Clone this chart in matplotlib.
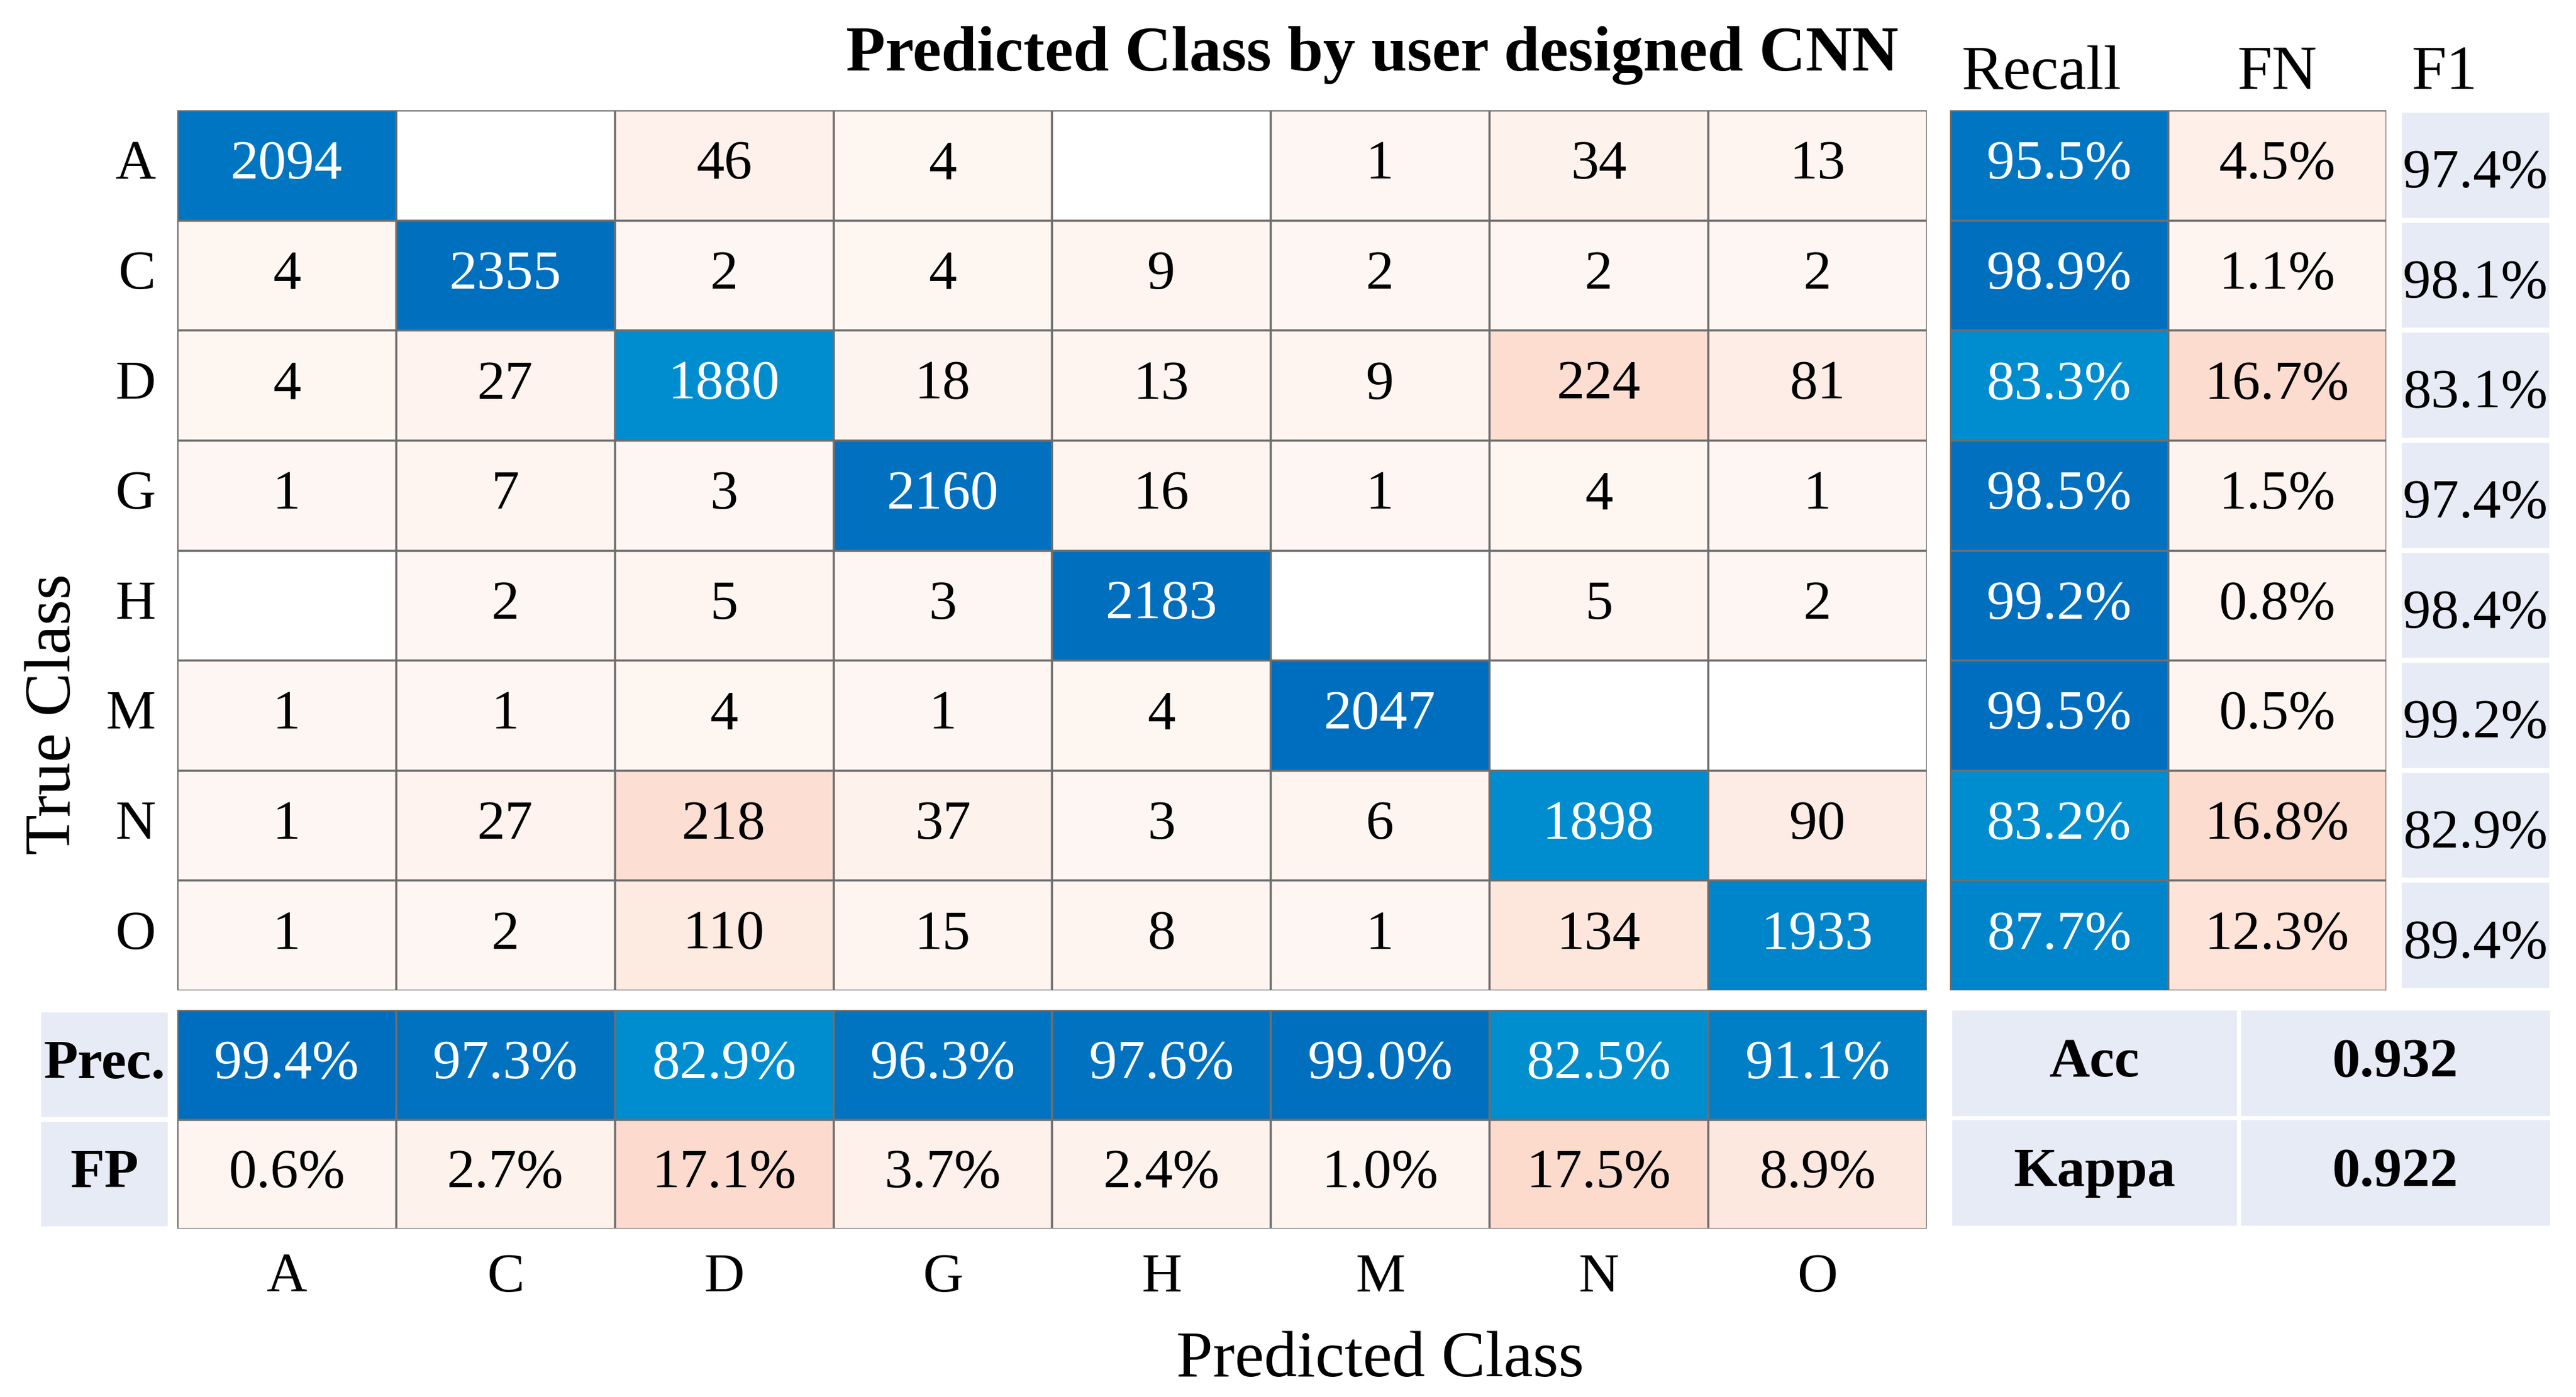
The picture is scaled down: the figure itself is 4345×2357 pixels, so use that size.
import matplotlib
matplotlib.use('Agg')
import matplotlib.pyplot as plt
from matplotlib.patches import Rectangle
import numpy as np

plt.rcParams['font.family'] = ['Liberation Serif', 'DejaVu Serif']

# data
classes = ['A', 'C', 'D', 'G', 'H', 'M', 'N', 'O']
conf = np.array([
    [2094, 0, 46, 4, 0, 1, 34, 13],
    [4, 2355, 2, 4, 9, 2, 2, 2],
    [4, 27, 1880, 18, 13, 9, 224, 81],
    [1, 7, 3, 2160, 16, 1, 4, 1],
    [0, 2, 5, 3, 2183, 0, 5, 2],
    [1, 1, 4, 1, 4, 2047, 0, 0],
    [1, 27, 218, 37, 3, 6, 1898, 90],
    [1, 2, 110, 15, 8, 1, 134, 1933],
])
recall = [95.5, 98.9, 83.3, 98.5, 99.2, 99.5, 83.2, 87.7]
fn_rate = [4.5, 1.1, 16.7, 1.5, 0.8, 0.5, 16.8, 12.3]
f1 = [97.4, 98.1, 83.1, 97.4, 98.4, 99.2, 82.9, 89.4]
precision = [99.4, 97.3, 82.9, 96.3, 97.6, 99.0, 82.5, 91.1]
fp_rate = [0.6, 2.7, 17.1, 3.7, 2.4, 1.0, 17.5, 8.9]
acc = 0.932
kappa = 0.922

W, H = 4345, 2357
FS = 68
EDGE = '#6e6e6e'
PANEL = '#e7ebf5'


def blue(p):
    # darker blue for higher percentage
    t = np.clip((p - 80) / 20.0, 0, 1)
    c0 = np.array([0x00, 0x93, 0xd2]) / 255
    c1 = np.array([0x00, 0x6d, 0xbd]) / 255
    return tuple(c0 + (c1 - c0) * t)


def pink(p):
    t = np.clip(p / 18.0, 0, 1)
    c0 = np.array([0xfe, 0xf6, 0xf2]) / 255
    c1 = np.array([0xfc, 0xda, 0xcc]) / 255
    return tuple(c0 + (c1 - c0) * t)


def add_ax(x0, y0, x1, y1):
    ax = fig.add_axes([x0 / W, 1 - y1 / H, (x1 - x0) / W, (y1 - y0) / H])
    ax.axis('off')
    return ax


def cell(ax, c, r, fc, txt, tc='black', edge=EDGE, lw=2.5, weight='normal', dy=0.0):
    ax.add_patch(Rectangle((c, r), 1, 1, facecolor=fc, edgecolor=edge, linewidth=lw))
    if txt:
        ax.text(c + 0.5, r + 0.5 + dy, txt, ha='center', va='center', color=tc,
                fontsize=FS, fontweight=weight)


fig = plt.figure(figsize=(W / 100, H / 100), dpi=100)

# main confusion matrix
ax = add_ax(299, 186, 3250, 1671)
n = len(classes)
ax.set_xlim(0, n)
ax.set_ylim(n, 0)
row_tot = conf.sum(axis=1)
for i in range(n):
    for j in range(n):
        v = conf[i, j]
        if i == j:
            cell(ax, j, i, blue(recall[i]), str(v), 'white')
        elif v == 0:
            cell(ax, j, i, 'white', '')
        else:
            cell(ax, j, i, pink(v / row_tot[i] * 100 * 1.6), str(v))
    ax.text(-0.1, i + 0.5, classes[i], ha='right', va='center', fontsize=FS)
ax.text(7.87, -0.5, 'Predicted Class by user designed CNN', ha='right', va='center',
        fontsize=78, fontweight='bold')

fig.text(91 / W, 1 - 1205 / H, 'True Class', rotation=90, ha='center', va='center', fontsize=80)
fig.text(2328 / W, 1 - 2295 / H, 'Predicted Class', ha='center', va='center', fontsize=80)

# recall / FN block
ax2 = add_ax(3289, 186, 4025, 1671)
ax2.set_xlim(0, 2)
ax2.set_ylim(n, 0)
for i in range(n):
    cell(ax2, 0, i, blue(recall[i]), f'{recall[i]:.1f}%', 'white')
    cell(ax2, 1, i, pink(fn_rate[i]), f'{fn_rate[i]:.1f}%')
ax2.text(0.42, -0.33, 'Recall', ha='center', va='center', fontsize=76)
ax2.text(1.5, -0.33, 'FN', ha='center', va='center', fontsize=76)

# F1 column
ax3 = add_ax(4047, 186, 4304, 1671)
ax3.set_xlim(0, 1)
ax3.set_ylim(n, 0)
for i in range(n):
    cell(ax3, 0, i, PANEL, f'{f1[i]:.1f}%', edge='white', lw=6, dy=0.08)
ax3.text(0.3, -0.33, 'F1', ha='center', va='center', fontsize=76)

# precision / FP rows
ax4 = add_ax(299, 1704, 3250, 2073)
ax4.set_xlim(0, n)
ax4.set_ylim(2, 0)
for j in range(n):
    cell(ax4, j, 0, blue(precision[j]), f'{precision[j]:.1f}%', 'white')
    cell(ax4, j, 1, pink(fp_rate[j]), f'{fp_rate[j]:.1f}%')
    ax4.text(j + 0.5, 2.45, classes[j], ha='center', va='center', fontsize=FS)

# row labels for precision / FP
ax5 = add_ax(65, 1704, 287, 2073)
ax5.set_xlim(0, 1)
ax5.set_ylim(2, 0)
cell(ax5, 0, 0, PANEL, 'Prec.', edge='white', lw=6, weight='bold')
cell(ax5, 0, 1, PANEL, 'FP', edge='white', lw=6, weight='bold')

# overall accuracy / kappa
ax6 = add_ax(3289, 1701, 4304, 2071)
ax6.set_xlim(0, 2)
ax6.set_ylim(2, 0)
ax6.add_patch(Rectangle((0, 0), 2, 2, facecolor=PANEL, edgecolor='none'))
for r, (name, val) in enumerate([('Acc', acc), ('Kappa', kappa)]):
    ax6.add_patch(Rectangle((0, r), 0.96, 1, facecolor=PANEL, edgecolor='white', linewidth=5))
    ax6.add_patch(Rectangle((0.96, r), 1.04, 1, facecolor=PANEL, edgecolor='white', linewidth=5))
    ax6.text(0.48, r + 0.5, name, ha='center', va='center', fontsize=FS, fontweight='bold')
    ax6.text(1.48, r + 0.5, f'{val:.3f}', ha='center', va='center', fontsize=FS, fontweight='bold')

fig.savefig('out.png', dpi=100, facecolor='white')
